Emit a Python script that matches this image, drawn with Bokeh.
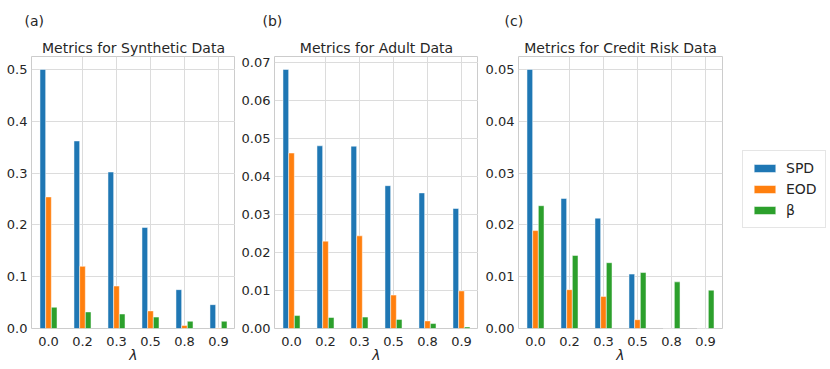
from bokeh.plotting import figure
from bokeh.layouts import row
from bokeh.models import (Legend, LegendItem, Title, ColumnDataSource, FactorRange,
                          Range1d, FixedTicker, NumeralTickFormatter)
from bokeh.transform import dodge
from bokeh.embed import file_html
from bokeh.resources import INLINE

lam = ["0.0", "0.2", "0.3", "0.5", "0.8", "0.9"]

syn_spd = [0.500, 0.362, 0.302, 0.195, 0.075, 0.046]
syn_eod = [0.254, 0.120, 0.082, 0.034, 0.006, 0.001]
syn_beta = [0.041, 0.032, 0.028, 0.022, 0.014, 0.014]

adult_spd = [0.0682, 0.0481, 0.0480, 0.0376, 0.0357, 0.0316]
adult_eod = [0.0462, 0.0230, 0.0244, 0.0088, 0.0020, 0.0099]
adult_beta = [0.0034, 0.0029, 0.0030, 0.0024, 0.0013, 0.0004]

credit_spd = [0.0500, 0.0251, 0.0213, 0.0105, 0.0, 0.0]
credit_eod = [0.0189, 0.0075, 0.0062, 0.0017, 0.0, 0.0]
credit_beta = [0.0237, 0.0141, 0.0127, 0.0108, 0.0090, 0.0074]

titles = ["Metrics for Synthetic Data", "Metrics for Adult Data", "Metrics for Credit Risk Data"]
panel_tags = ["(a)", "(b)", "(c)"]
series_names = ["SPD", "EOD", "β"]
colors = ["#1f77b4", "#ff7f0e", "#2ca02c"]

FONT = "DejaVu Sans"
TXT = "#262626"
BW = 0.167


def make_panel(i, spd, eod, beta, ticks, fmt, left_border, right_border, tag_offset):
    ymax = max(spd + eod + beta) * 1.05
    p = figure(x_range=FactorRange(*lam, range_padding=0), y_range=Range1d(0, ymax),
               frame_width=204, frame_height=272, output_backend="svg",
               toolbar_location=None, min_border_left=left_border, min_border_right=right_border,
               min_border_top=56, min_border_bottom=30, background_fill_color="white",
               border_fill_color="white")
    src = ColumnDataSource(dict(lam=lam, spd=spd, eod=eod, beta=beta))
    rends = []
    for off, col, c in zip([-BW, 0, BW], ["spd", "eod", "beta"], colors):
        r = p.vbar(x=dodge("lam", off, range=p.x_range), top=col, width=BW, source=src,
                   fill_color=c, line_color="white", line_width=0.5)
        rends.append(r)

    p.add_layout(Title(text=titles[i], align="center", text_font=FONT, text_font_size="14px",
                       text_font_style="normal", text_color=TXT, standoff=2), "above")
    p.add_layout(Title(text=panel_tags[i], align="left", offset=tag_offset, text_font=FONT,
                       text_font_size="14px", text_font_style="normal", text_color=TXT,
                       standoff=16), "above")

    p.outline_line_color = "#cccccc"
    p.outline_line_width = 1
    p.grid.grid_line_color = "#dcdcdc"
    p.grid.grid_line_width = 1

    p.yaxis.ticker = FixedTicker(ticks=ticks)
    p.yaxis.formatter = NumeralTickFormatter(format=fmt)
    for ax in (p.xaxis, p.yaxis):
        ax.axis_line_color = None
        ax.major_tick_line_color = None
        ax.minor_tick_line_color = None
        ax.major_tick_out = 0
        ax.major_tick_in = 0
        ax.minor_tick_out = 0
        ax.minor_tick_in = 0
        ax.major_label_text_font = FONT
        ax.major_label_text_font_size = "13px"
        ax.major_label_text_color = TXT
    p.yaxis.major_label_standoff = 4
    p.xaxis.major_label_standoff = 8
    p.xaxis.axis_label = "λ"
    p.xaxis.axis_label_text_font = FONT
    p.xaxis.axis_label_text_font_size = "14px"
    p.xaxis.axis_label_text_font_style = "italic"
    p.xaxis.axis_label_text_color = TXT
    p.xaxis.axis_label_standoff = -2
    return p, rends


pa, _ = make_panel(0, syn_spd, syn_eod, syn_beta, [0, 0.1, 0.2, 0.3, 0.4, 0.5], "0.0",
                   31, 0, -7)
pb, _ = make_panel(1, adult_spd, adult_eod, adult_beta,
                   [0, 0.01, 0.02, 0.03, 0.04, 0.05, 0.06, 0.07], "0.00", 39, 0, -12)
pc, rc = make_panel(2, credit_spd, credit_eod, credit_beta,
                    [0, 0.01, 0.02, 0.03, 0.04, 0.05], "0.00", 40, 100, -14)

legend = Legend(items=[LegendItem(label=n, renderers=[r]) for n, r in zip(series_names, rc)],
                location=(20, 100), margin=0, padding=8, spacing=3,
                glyph_width=27, glyph_height=10, label_height=18, label_standoff=8,
                label_text_font=FONT, label_text_font_size="14px", label_text_color=TXT,
                border_line_color="#cccccc", border_line_width=1, background_fill_alpha=1)
pc.add_layout(legend, "right")

layout = row(pa, pb, pc, spacing=0)
open("out.html", "w").write(file_html(layout, INLINE))
